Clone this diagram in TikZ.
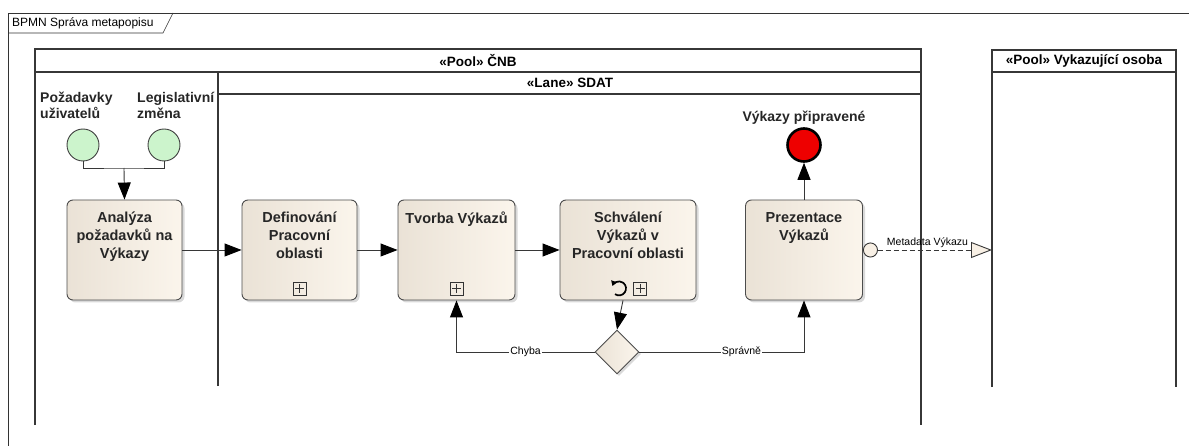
\documentclass[tikz,border=0pt]{standalone}
\usepackage{fontspec}
\setmainfont{Liberation Sans}
\usetikzlibrary{shapes.geometric,arrows.meta,shadows}

\definecolor{taskl}{RGB}{234,226,214}
\definecolor{taskr}{RGB}{251,245,236}
\definecolor{cream}{RGB}{248,240,229}
\definecolor{startfill}{RGB}{204,244,204}
\definecolor{endfill}{RGB}{238,0,0}
\definecolor{linegray}{RGB}{55,55,55}

% collapsed sub-process marker and loop marker
\newcommand{\subproc}[1]{%
  \draw[marker] ([shift={(-6.5,-6.5)}]#1) rectangle ([shift={(6.5,6.5)}]#1);
  \draw[marker] ([shift={(-4.5,0)}]#1) -- ([shift={(4.5,0)}]#1)
                ([shift={(0,-4.5)}]#1) -- ([shift={(0,4.5)}]#1);}
\newcommand{\loopmark}[1]{%
  \draw[line width=1.7pt,-{Triangle[length=5pt,width=6pt]}]
    ([shift={(-4,5.7)}]#1) arc[start angle=125,end angle=-160,radius=7];}

\begin{document}
\begin{tikzpicture}[x=1pt,y=-1pt,
    frameline/.style={draw=black!80,line width=0.6pt},
    poolline/.style={draw=linegray,line width=1.1pt},
    hdr/.style={font=\bfseries\fontsize{13.5}{15}\selectfont,inner sep=0pt},
    task/.style={rectangle,rounded corners=6pt,draw=black!70,line width=0.9pt,
      left color=taskl,right color=taskr,minimum width=115pt,minimum height=100pt,
      inner sep=0pt,drop shadow={shadow xshift=2.5pt,shadow yshift=-2.5pt,opacity=0.3}},
    tasklbl/.style={anchor=north,yshift=-9pt,align=center,
      font=\bfseries\fontsize{14.5}{18}\selectfont,text=black!85},
    startev/.style={circle,draw=black!75,line width=0.9pt,fill=startfill,
      minimum size=32pt,inner sep=0pt},
    endev/.style={circle,draw=black,line width=2.6pt,fill=endfill,
      minimum size=33pt,inner sep=0pt},
    evlbl/.style={align=left,inner sep=0pt,font=\bfseries\fontsize{14}{16}\selectfont,text=black!85},
    gateway/.style={diamond,aspect=1,draw=black!70,line width=0.9pt,
      left color=taskl,right color=taskr,minimum width=44pt,minimum height=44pt,
      inner sep=0pt,drop shadow={shadow xshift=2pt,shadow yshift=-2pt,opacity=0.3}},
    flow/.style={draw=linegray,line width=0.9pt,-{Triangle[length=17pt,width=13pt,color=black]}},
    line/.style={draw=linegray,line width=0.9pt},
    lbl/.style={fill=white,inner sep=1pt,font=\fontsize{10.5}{12}\selectfont},
    msg/.style={draw=linegray,line width=0.9pt,dash pattern=on 5pt off 3pt,
      {Circle[open,fill=cream,length=15pt]}-{Triangle[open,fill=cream,length=21pt,width=16pt]}},
    marker/.style={draw=black!80,line width=0.8pt}]
\useasboundingbox (0,0) rectangle (1189,446);

% diagram frame
\draw[frameline] (8,446) -- (8,13) -- (1189,13);
\draw[frameline] (8,33) -- (163,33) -- (173,13);
\node[anchor=west,inner sep=0pt,font=\fontsize{12}{13}\selectfont] (frametitle) at (12,23) {BPMN Správa metapopisu};

% pool CNB with lane SDAT
\draw[poolline] (35,425) -- (35,49) -- (921,49) -- (921,425);
\draw[poolline] (35,72) -- (921,72);
\node[hdr] (cnbhdr) at (478,61) {«Pool» ČNB};
\draw[poolline] (218,386) -- (218,72);
\draw[poolline] (218,94) -- (921,94);
\node[hdr] (sdathdr) at (570,83) {«Lane» SDAT};

% pool Vykazujici osoba
\draw[poolline] (992,387) -- (992,50) -- (1176,50) -- (1176,387);
\draw[poolline] (992,72) -- (1176,72);
\node[hdr] (vykhdr) at (1084,61) {«Pool» Vykazující osoba};
\coordinate (vykin) at (992,250);

% events
\node[startev] (s1) at (83,145) {};
\node[startev] (s2) at (164,145) {};
\node[evlbl,anchor=north west] (s1lbl) at (40,92) {Požadavky\\uživatelů};
\node[evlbl,anchor=north west] (s2lbl) at (137,92) {Legislativní\\změna};
\node[endev] (konec) at (804,145) {};
\node[evlbl,anchor=base] (konlbl) at (804,122) {Výkazy připravené};

% tasks
\node[task,label={[tasklbl]north:Analýza\\požadavků na\\Výkazy}] (ana) at (124.5,250) {};
\node[task,label={[tasklbl]north:Definování\\Pracovní\\oblasti}] (def) at (299.5,250) {};
\node[task,minimum width=117pt,label={[tasklbl]north:Tvorba Výkazů}] (tvo) at (456.5,250) {};
\node[task,minimum width=136pt,label={[tasklbl]north:Schválení\\Výkazů v\\Pracovní oblasti}] (sch) at (628,250) {};
\node[task,minimum width=117pt,label={[tasklbl]north:Prezentace\\Výkazů}] (pre) at (804,250) {};
\node[gateway] (gw) at (617,352) {};

% markers
\coordinate (defmk) at ([yshift=12pt]def.south);
\coordinate (tvomk) at ([yshift=12pt]tvo.south);
\coordinate (schmk) at ([xshift=12pt,yshift=12pt]sch.south);
\coordinate (schloop) at ([xshift=-9pt,yshift=12pt]sch.south);
\subproc{defmk}
\subproc{tvomk}
\subproc{schmk}
\loopmark{schloop}

% sequence flows
\coordinate (mrg) at (124,168);
\draw[line] (s1.south) |- (mrg) -| (s2.south);
\draw[flow] (mrg) -- (ana.north);
\draw[flow] (ana) -- (def);
\draw[flow] (def) -- (tvo);
\draw[flow] (tvo) -- (sch);
\draw[flow] ([xshift=-5pt]sch.south) -- (gw.north);
\draw[flow] (gw.west) -| node[lbl,pos=0.25]{Chyba} (tvo.south);
\draw[flow] (gw.east) -| node[lbl,pos=0.31]{Správně} (pre.south);
\draw[flow] (pre.north) -- (konec.south);

% message flow
\draw[msg] (pre.east) -- node[above,inner sep=2pt,font=\fontsize{10.5}{12}\selectfont]{Metadata Výkazu} (vykin);
\end{tikzpicture}
\end{document}
